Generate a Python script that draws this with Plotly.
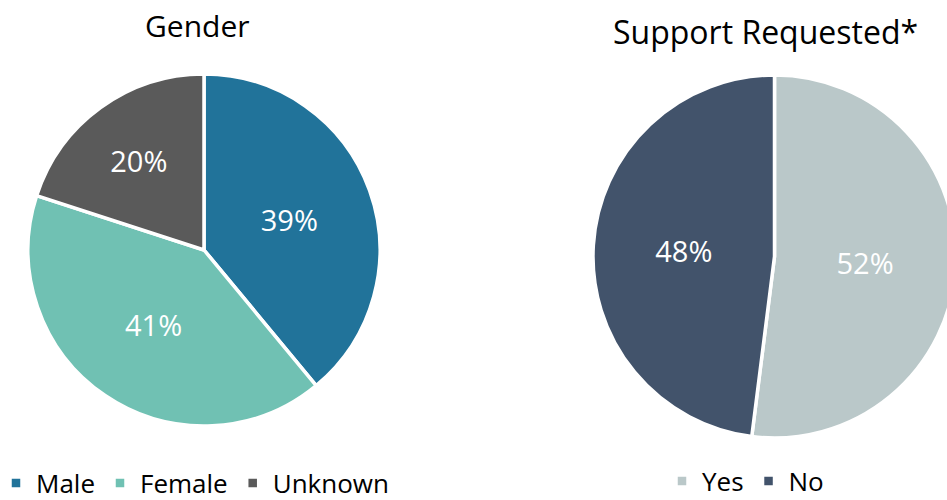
import plotly.graph_objects as go

gender_labels = ["Male", "Female", "Unknown"]
gender_values = [39, 41, 20]
gender_colors = ["#21739A", "#70C1B3", "#5A5A5A"]

support_labels = ["Yes", "No"]
support_values = [52, 48]
support_colors = ["#BAC8C9", "#42536B"]

W, H = 960, 500
FONT = "Open Sans"

fig = go.Figure()
fig.add_trace(go.Pie(
    labels=gender_labels, values=gender_values,
    marker=dict(colors=gender_colors, line=dict(color="white", width=3.5)),
    sort=False, direction="clockwise", rotation=0,
    textinfo="percent", textposition="inside", insidetextorientation="horizontal",
    textfont=dict(family=FONT, size=29, color="white"),
    domain=dict(x=[28 / W, 380 / W], y=[(H - 426) / H, (H - 74) / H]),
    legend="legend", hoverinfo="label+percent",
))
fig.add_trace(go.Pie(
    labels=support_labels, values=support_values,
    marker=dict(colors=support_colors, line=dict(color="white", width=3.5)),
    sort=False, direction="clockwise", rotation=0,
    textinfo="percent", textposition="inside", insidetextorientation="horizontal",
    textfont=dict(family=FONT, size=29, color="white"),
    domain=dict(x=[593 / W, 956 / W], y=[(H - 438) / H, (H - 75) / H]),
    legend="legend2", hoverinfo="label+percent",
))

fig.update_layout(
    width=W, height=H,
    margin=dict(l=0, r=0, t=0, b=0, autoexpand=False),
    paper_bgcolor="white", plot_bgcolor="white",
    font=dict(family=FONT, color="black"),
    legend=dict(orientation="h", x=-4 / W, y=(H - 483) / H, xanchor="left", yanchor="middle",
                font=dict(family=FONT, size=26, color="black"),
                bgcolor="rgba(0,0,0,0)", traceorder="normal"),
    legend2=dict(orientation="h", x=662 / W, y=(H - 481) / H, xanchor="left", yanchor="middle",
                 font=dict(family=FONT, size=26, color="black"),
                 bgcolor="rgba(0,0,0,0)", traceorder="normal"),
    annotations=[
        dict(text="Gender", x=197 / W, y=(H - 25) / H, xref="paper", yref="paper",
             showarrow=False, xanchor="center", yanchor="middle",
             font=dict(family=FONT, size=30, color="black")),
        dict(text="Support Requested*", x=765 / W, y=(H - 32) / H, xref="paper", yref="paper",
             showarrow=False, xanchor="center", yanchor="middle",
             font=dict(family=FONT, size=32, color="black")),
    ],
)

fig.write_html(
    "out.html",
    config={"displayModeBar": False},
    post_script="document.body.style.margin='0';document.body.style.overflow='hidden';"
                "document.documentElement.style.overflow='hidden';",
)
